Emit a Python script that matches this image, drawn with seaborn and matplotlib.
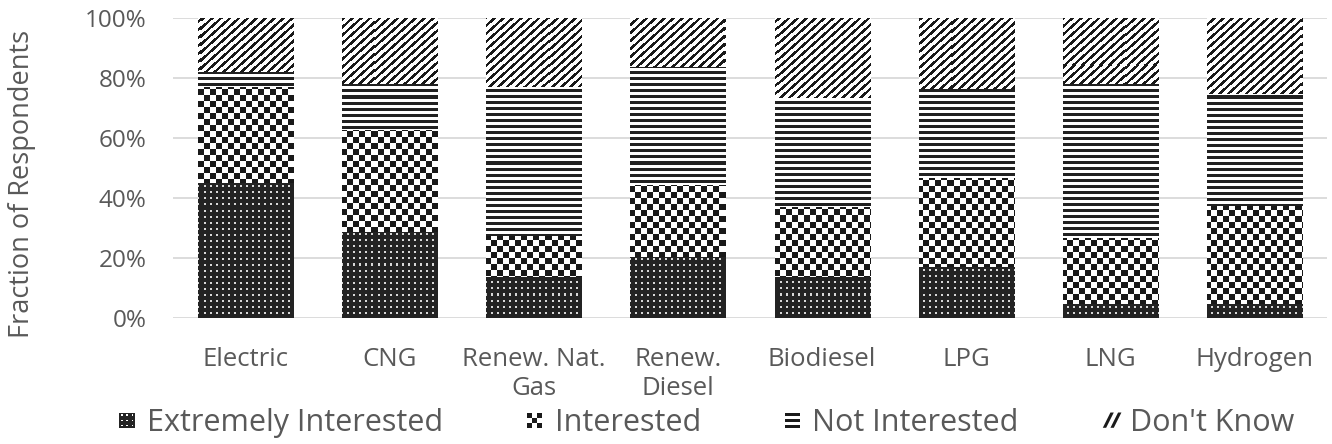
import numpy as np
import matplotlib
matplotlib.use("Agg")
import matplotlib.pyplot as plt
import seaborn as sns
from matplotlib.ticker import PercentFormatter, MultipleLocator
from matplotlib.legend_handler import HandlerBase
from matplotlib.patches import Rectangle, Polygon, Patch

# ---------------- data ----------------
categories = ["Electric", "CNG", "Renew. Nat.\nGas", "Renew.\nDiesel",
              "Biodiesel", "LPG", "LNG", "Hydrogen"]
extremely_interested = [44.8, 28.4, 13.7, 20.3, 13.7, 17.0, 4.6, 4.6]
interested = [32.0, 34.2, 13.5, 23.9, 23.1, 29.5, 21.9, 32.6]
not_interested = [5.2, 15.2, 49.6, 39.5, 36.3, 29.6, 51.4, 37.3]
dont_know = [18.0, 22.2, 23.2, 16.3, 26.9, 23.9, 22.1, 25.5]
series_names = ["Extremely Interested", "Interested", "Not Interested", "Don't Know"]
y_label = "Fraction of Respondents"

# ---------------- style ----------------
sns.set_style("white")
plt.rcParams["font.family"] = ["Open Sans", "DejaVu Sans"]
TXT = "#595959"
DARK = (0.14, 0.14, 0.14)

W_PX, H_PX = 1332, 444
fig = plt.figure(figsize=(W_PX / 100, H_PX / 100), dpi=100)
ax_l, ax_r, ax_t, ax_b = 173, 1327, 17.7, 317.7
ax = fig.add_axes([ax_l / W_PX, (H_PX - ax_b) / H_PX,
                   (ax_r - ax_l) / W_PX, (ax_b - ax_t) / H_PX])

# ---------------- textures (pixel patterns) ----------------
aw, ah = int(round(ax_r - ax_l)), int(round(ax_b - ax_t))
r, c = np.indices((ah, aw))


def rgba_from_mask(mask, fg, bg):
    img = np.empty((ah, aw, 4))
    img[..., :3] = np.where(mask[..., None], np.array(fg), np.array(bg))
    img[..., 3] = 1.0
    return img


dots = rgba_from_mask((r % 6 < 2) & (c % 6 < 2), (0.85, 0.85, 0.85), DARK)
checker = rgba_from_mask(((r // 6) + (c // 6)) % 2 == 0, (0.1, 0.1, 0.1), (1, 1, 1))
hlines = rgba_from_mask(r % 6 < 3, (0.13, 0.13, 0.13), (1, 1, 1))
diag = rgba_from_mask(((0.9 * c + r) % 8.0) < 3.3, (0.1, 0.1, 0.1), (1, 1, 1))
textures = [dots, checker, hlines, diag]

# ---------------- bars ----------------
series = [extremely_interested, interested, not_interested, dont_know]
bottom = np.zeros(len(categories))
XL = (-0.5, len(categories) - 0.5)
for vals, tex in zip(series, textures):
    n0 = len(ax.patches)
    sns.barplot(x=categories, y=vals, bottom=bottom, width=0.66, color="white",
                saturation=1, errorbar=None, linewidth=0, ax=ax, zorder=2)
    for p in ax.patches[n0:]:
        im = ax.imshow(tex, extent=(XL[0], XL[1], 0, 100), aspect="auto",
                       interpolation="nearest", origin="upper", zorder=2.5)
        im.set_clip_path(p)
    bottom = bottom + np.array(vals)

ax.set_xlim(*XL)
ax.set_ylim(0, 100)
ax.set_aspect("auto")

# ---------------- axes cosmetics ----------------
for s in ax.spines.values():
    s.set_visible(False)
ax.yaxis.set_major_locator(MultipleLocator(20))
ax.yaxis.set_major_formatter(PercentFormatter(100, decimals=0))
ax.yaxis.grid(True, color="#d9d9d9", linewidth=1.3)
ax.set_axisbelow(True)
ax.tick_params(axis="y", length=0, pad=19, labelsize=17.5, labelcolor=TXT)
ax.tick_params(axis="x", length=0, pad=21, labelsize=18.5, labelcolor=TXT)
for t in ax.get_xticklabels():
    t.set_linespacing(1.2)
ax.set_xlabel("")
ax.set_ylabel(y_label, fontsize=19.5, color=TXT)
ax.yaxis.set_label_coords((36 - ax_l) / (ax_r - ax_l), (ax_b - 184) / (ax_b - ax_t))


# ---------------- legend with pattern swatches ----------------
class PatternHandler(HandlerBase):
    def create_artists(self, legend, orig_handle, xd, yd, width, height, fontsize, trans):
        kind = orig_handle.get_gid()
        s = min(width, height)
        x0 = -xd + (width - s) / 2
        y0 = -yd + (height - s) / 2
        arts = []
        if kind == "dots":
            arts.append(Rectangle((x0, y0), s, s, fc=DARK, ec="none"))
            d = s / 3
            for i in range(3):
                for j in range(3):
                    arts.append(Rectangle((x0 + d * (i + 0.38), y0 + d * (j + 0.38)),
                                          d * 0.24, d * 0.24, fc="white", ec="none"))
        elif kind == "checker":
            d = s / 3
            for i in range(3):
                for j in range(3):
                    if (i + j) % 2 == 0:
                        arts.append(Rectangle((x0 + d * i, y0 + d * j), d, d,
                                              fc="#1a1a1a", ec="none"))
        elif kind == "hlines":
            d = s / 5
            for j in (0, 2, 4):
                arts.append(Rectangle((x0, y0 + d * j), s, d * 0.9, fc="#1a1a1a", ec="none"))
        elif kind == "diag":
            w = s * 0.22
            for off in (0.0, 0.5):
                xs = x0 + s * off
                arts.append(Polygon([(xs, y0), (xs + w, y0), (xs + s * 0.5 + w, y0 + s),
                                     (xs + s * 0.5, y0 + s)], closed=True,
                                    fc="#1a1a1a", ec="none"))
        for a in arts:
            a.set_transform(trans)
        return arts


kinds = ["dots", "checker", "hlines", "diag"]
handles = [Patch(label=n, gid=k) for n, k in zip(series_names, kinds)]
fig.legend(handles=handles, handler_map={Patch: PatternHandler()},
           loc="center", bbox_to_anchor=(707 / W_PX, 1 - 423 / H_PX),
           ncol=4, frameon=False, fontsize=22, labelcolor=TXT,
           handlelength=0.5, handleheight=0.5, handletextpad=0.4,
           columnspacing=2.75, borderpad=0, borderaxespad=0)

fig.savefig("out.png", dpi=100)
